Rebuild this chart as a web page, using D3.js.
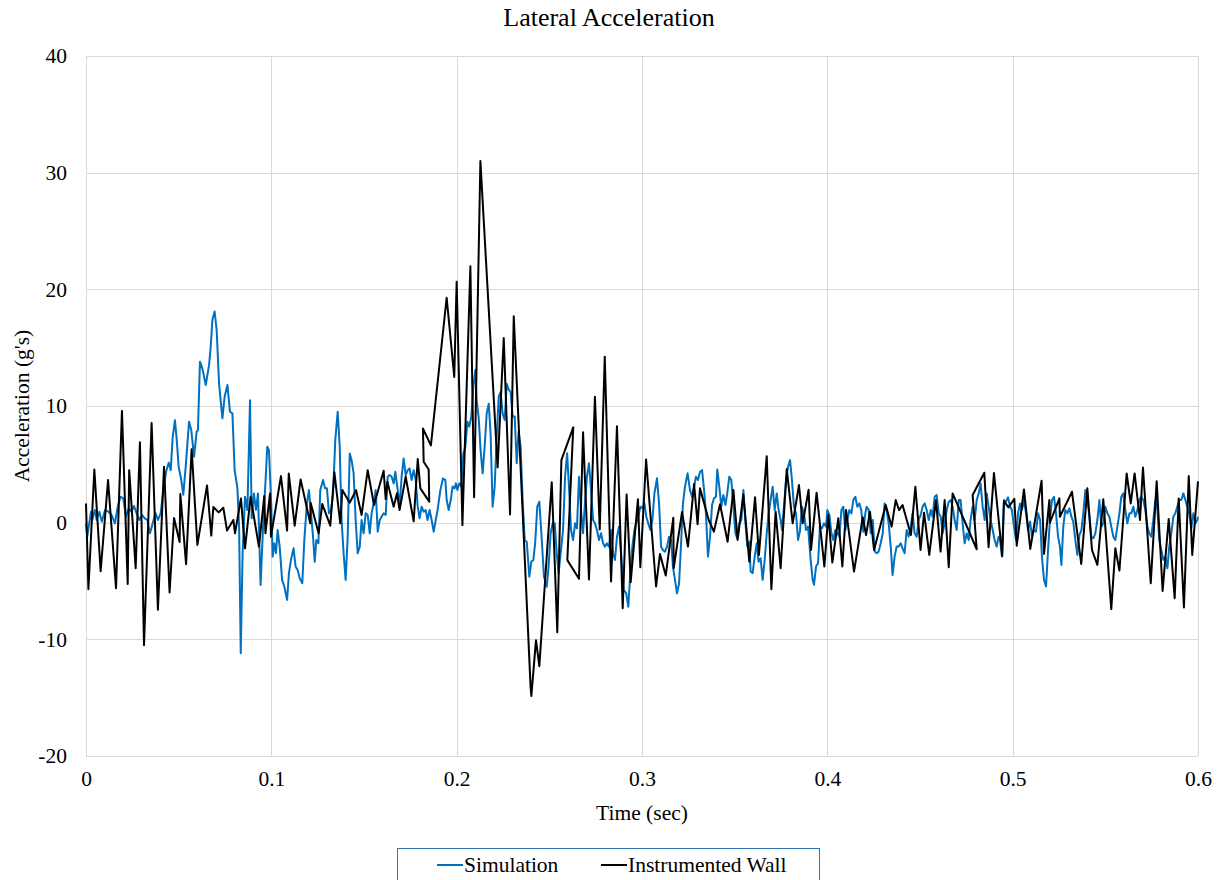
<!DOCTYPE html>
<html>
<head>
<meta charset="utf-8">
<script src="https://cdn.jsdelivr.net/npm/d3@7"></script>
<style>
  body { margin: 0; background: #fff; }
  svg { display: block; font-family: "Liberation Serif", "Times New Roman", serif; }
</style>
</head>
<body>
<div id="chart"></div>
<script>
// Axis ticks
const timeTicks = [0, 0.1, 0.2, 0.3, 0.4, 0.5, 0.6];
const accelTicks = [-20, -10, 0, 10, 20, 30, 40];

// Series names
const seriesNames = ["Simulation", "Instrumented Wall"];

// Simulation [time (sec), acceleration (g's)]
const simulation = [
  [0,-0.06],[0.0007,-1.2],[0.0027,0.94],[0.0034,0.23],[0.0047,1.08],[0.0058,0.23],[0.0072,0.94],[0.0085,0.09],
  [0.0103,1.08],[0.0121,0.94],[0.0138,0.66],[0.0156,-0.06],[0.0173,1.51],[0.0187,2.22],[0.0201,2.08],[0.0216,0.51],
  [0.0230,1.23],[0.0245,0.94],[0.0259,1.43],[0.0273,0.8],[0.0288,0.23],[0.0302,0.66],[0.0317,0.37],[0.0331,0.23],
  [0.0345,-0.91],[0.0360,-0.06],[0.0374,0.86],[0.0388,0.23],[0.0403,0.8],[0.0417,2.79],[0.0432,4.36],[0.0446,5.13],
  [0.0457,4.5],[0.0468,7.36],[0.0480,8.78],[0.0489,7.21],[0.0500,4.79],[0.0514,3.65],[0.0525,2.4],
  [0.0538,4.8],[0.0556,8.66],[0.0568,7.94],[0.0583,5.66],[0.0597,7.8],[0.0604,7.94],[0.0615,13.8],[0.0628,13.2],
  [0.0646,11.8],[0.0664,13.5],[0.0673,15.1],[0.0682,17.4],[0.0694,18.1],[0.0705,16.5],[0.0718,11.9],[0.0736,8.94],
  [0.0748,10.8],[0.0763,11.8],[0.0777,9.51],[0.0790,9.37],[0.0802,4.51],[0.0817,2.94],[0.0826,-0.34],[0.0835,-11.2],
  [0.0845,-2.63],[0.0858,2.23],[0.0871,1.09],[0.0885,10.5],[0.0894,0.37],[0.0906,2.51],[0.0917,1.09],[0.0928,2.51],
  [0.0942,-5.34],[0.0957,0.23],[0.0969,3.66],[0.0978,6.51],[0.0987,6.23],[0.1,1.37],
  [0.1007,-2.91],[0.1016,-1.77],[0.1025,-2.62],[0.1034,-0.63],[0.1045,-2.05],[0.1058,-4.9],[0.1070,-5.47],[0.1085,-6.62],
  [0.1095,-4.33],[0.1106,-3.19],[0.1120,-2.2],[0.1131,-3.76],[0.1142,-4.05],[0.1153,-4.76],[0.1167,-5.19],[0.1178,-1.48],
  [0.1192,1.65],[0.1203,2.79],[0.1214,0.8],[0.1225,-1.2],[0.1234,-3.34],[0.1243,-1.48],[0.1254,-1.77],[0.1264,2.79],
  [0.1279,3.65],[0.1290,2.94],[0.1300,2.94],[0.1311,0.8],[0.1322,1.08],[0.1333,2.37],[0.1345,7.07],[0.1358,9.5],
  [0.1369,6.5],[0.1379,0.23],[0.1390,-2.62],[0.1401,-4.9],[0.1412,-1.2],[0.1423,5.93],[0.1433,5.36],[0.1444,4.22],
  [0.1455,0.23],[0.1466,-2.62],[0.1477,-2.05],[0.1487,0.23],[0.1498,-0.91],[0.1509,0.8],[0.1520,0.66],[0.1531,-0.91],
  [0.1541,0.8],[0.1552,1.65],[0.1563,2.79],[0.1574,-0.77],[0.1585,0.23],[0.1595,0.51],[0.1606,0.8],[0.1617,0.66],
  [0.1628,3.94],[0.1638,4.08],[0.1649,3.94],[0.1660,3.36],[0.1669,4.36],[0.1682,2.79],[0.1692,1.37],[0.1703,3.94],
  [0.1714,5.5],[0.1725,4.08],[0.1736,4.5],[0.1746,4.65],[0.1757,3.65],[0.1768,4.5],[0.1779,3.65],[0.1790,1.37],
  [0.1800,0.37],[0.1811,1.37],[0.1822,0.94],[0.1833,1.08],[0.1843,0.23],[0.1854,1.08],[0.1865,0.23],[0.1876,-0.77],
  [0.1887,0.23],[0.1897,1.08],[0.1912,2.79],[0.1926,3.79],[0.1939,3.65],
  [0.1946,1.94],[0.1957,1.09],[0.1968,1.94],[0.1978,3.09],[0.1989,2.94],[0.1996,3.37],[0.2004,2.8],[0.2014,3.37],
  [0.2025,3.1],[0.2036,5.94],[0.2047,6.51],[0.2058,8.66],[0.2068,8.23],[0.2079,9.09],[0.2090,11.66],[0.2101,13.1],
  [0.2108,10.5],[0.2119,8.94],[0.2129,6.23],[0.2140,4.23],[0.2151,6.51],[0.2162,9.37],[0.2173,10.2],[0.2183,7.66],
  [0.2194,1.37],[0.2205,3.09],[0.2216,7.37],[0.2227,10.8],[0.2237,11.2],[0.2248,9.37],[0.2259,8.8],[0.2270,11.9],
  [0.2281,11.4],[0.2291,11.2],[0.2302,9.09],[0.2313,9.09],[0.2324,5.09],[0.2334,7.8],[0.2345,6.51],[0.2356,1.94],
  [0.2367,-1.49],[0.2378,-1.63],[0.2392,-4.63],[0.2403,-3.34],[0.2414,-3.2],[0.2424,-1.63],[0.2435,1.37],[0.2446,1.8],
  [0.2457,-0.91],[0.2471,-4.63],[0.2486,-5.49],[0.2496,-3.77],[0.2507,-0.91],[0.2518,-0.06],[0.2529,-0.06],[0.2540,-2.63],
  [0.2550,-4.34],
  [0.2574,-0.63],[0.2585,3.94],[0.2596,5.94],[0.2606,3.09],[0.2617,-0.63],[0.2628,-1.49],[0.2639,-0.06],[0.2649,-0.49],
  [0.2660,3.94],[0.2671,1.09],[0.2682,-0.91],[0.2692,1.66],[0.2703,3.94],[0.2714,5.09],[0.2725,2.8],[0.2736,0.23],
  [0.2746,-0.06],[0.2757,-0.63],[0.2768,-1.49],[0.2779,-0.91],[0.2790,-1.77],[0.2800,-2.06],[0.2811,-1.77],[0.2822,-2.06],
  [0.2833,-0.63],[0.2844,-2.63],[0.2854,-3.2],[0.2865,-1.2],[0.2876,-0.34],[0.2887,-2.63],[0.2901,-5.77],[0.2915,-6.06],
  [0.2926,-7.2],[0.2937,-4.34],[0.2948,-2.06],[0.2959,-0.63],[0.2969,-0.06],[0.2980,0.51],[0.2991,1.37],[0.3002,1.23],
  [0.3013,1.66],[0.3023,0.51],[0.3034,-0.06],[0.3045,-0.63],[0.3056,0.23],[0.3067,2.51],[0.3081,3.8],[0.3092,1.66],
  [0.3103,-2.06],[0.3113,-2.34],[0.3124,-2.49],[0.3135,-2.06],[0.3146,-1.2],[0.3157,-1.49],[0.3167,-3.77],[0.3178,-4.91],
  [0.3189,-6.06],[0.3200,-5.2],[0.3210,-2.06],[0.3221,1.66],[0.3232,3.09],[0.3246,4.23],
  [0.3259,2.79],[0.3270,2.22],[0.3281,3.08],[0.3291,3.94],[0.3302,3.65],[0.3313,4.36],[0.3324,4.5],[0.3335,2.79],
  [0.3345,0.8],[0.3356,-2.91],[0.3367,-1.2],[0.3378,1.51],[0.3388,2.08],[0.3399,2.22],[0.3406,4.56],[0.3417,3.08],
  [0.3428,1.37],[0.3439,2.37],[0.3450,1.51],[0.3460,2.51],[0.3471,3.94],[0.3482,3.65],[0.3493,1.37],[0.3504,-0.91],
  [0.3514,-1.34],[0.3525,-0.06],[0.3536,0.23],[0.3547,2.79],[0.3557,0.23],[0.3568,-2.05],[0.3579,-1.62],[0.3586,-4.19],
  [0.3597,-4.33],[0.3608,-2.91],[0.3619,-1.77],[0.3629,-3.34],[0.3640,-3.05],[0.3651,-4.9],[0.3662,-3.19],[0.3673,-0.91],
  [0.3683,0.8],[0.3694,1.94],[0.3705,3.08],[0.3716,1.08],[0.3727,2.51],[0.3737,1.08],[0.3748,0.23],[0.3755,-0.63],
  [0.3766,1.37],[0.3777,3.65],[0.3788,4.79],[0.3799,5.36],[0.3809,3.65],[0.3820,1.37],[0.3831,0.8],[0.3842,-1.48],
  [0.3852,-0.77],[0.3863,1.37],[0.3874,0.8],[0.3885,-0.63],[0.3896,-0.34],
  [0.3910,-3.19],[0.3921,-4.9],[0.3928,-5.33],[0.3939,-3.76],[0.3950,-3.48],[0.3960,-0.34],[0.3971,-0.48],[0.3982,-0.06],
  [0.3993,-0.34],[0.4000,1.08],[0.4011,0.66],[0.4022,-0.91],[0.4032,-1.48],[0.4043,-0.63],[0.4054,-0.91],[0.4065,-1.2],
  [0.4076,1.08],[0.4086,1.37],[0.4097,-0.63],[0.4108,0.23],[0.4119,1.08],[0.4130,0.8],[0.4140,1.94],[0.4151,2.22],
  [0.4162,1.37],[0.4173,1.65],[0.4183,1.08],[0.4194,-0.77],[0.4205,0.8],[0.4212,1.37],[0.4223,1.08],[0.4234,-0.91],
  [0.4245,0.23],[0.4256,-2.48],[0.4266,-2.62],[0.4277,-2.48],[0.4288,-1.77],[0.4299,-0.91],[0.4309,1.65],[0.4320,1.08],
  [0.4331,-0.06],[0.4342,-2.05],[0.4352,-4.48],[0.4363,-2.91],[0.4374,-2.05],[0.4385,-2.05],[0.4396,-1.77],[0.4406,-2.2],
  [0.4417,-2.62],[0.4428,-0.63],[0.4439,-1.2],[0.4450,-0.34],[0.4460,0.8],[0.4471,-0.91],[0.4482,-1.2],[0.4493,0.23],
  [0.4504,0.66],[0.4514,1.37],[0.4525,1.65],[0.4536,1.08],[0.4547,0.23],[0.4558,1.08],[0.4568,0.51],[0.4579,2.22],
  [0.4590,2.37],[0.4601,0.8],[0.4612,0.51],[0.4622,-0.91],[0.4633,-0.06],[0.4644,1.08],[0.4655,1.8],[0.4666,1.94],
  [0.4676,1.37],[0.4687,0.23],[0.4698,-0.63],[0.4709,1.94],[0.4719,1.94],[0.4730,-0.06],[0.4741,-1.77],[0.4752,-0.91],
  [0.4763,-1.48],[0.4773,0.23],[0.4784,1.37],[0.4795,0.23],[0.4806,1.94],[0.4817,2.51],[0.4827,3.36],[0.4838,1.37],
  [0.4849,0.23],[0.4860,2.51],[0.4870,1.37],[0.4881,0.23],[0.4892,-0.63],[0.4903,-1.48],[0.4914,-2.05],[0.4924,-1.2],
  [0.4932,-1.48],[0.4942,-2.91],[0.4953,1.94],[0.4964,1.8],[0.4975,2.17],[0.4986,1.37],[0.4996,1.08],[0.5007,-0.34],
  [0.5018,-1.48],[0.5029,0.8],[0.5040,1.65],[0.5050,1.08],[0.5061,1.94],[0.5072,0.8],[0.5083,-0.63],[0.5094,0.09],
  [0.5104,-1.2],[0.5115,-0.63],[0.5126,-0.77],[0.5137,0.8],[0.5148,0.23],[0.5158,-2.91],[0.5169,-4.9],[0.5180,-5.47],
  [0.5191,-2.34],[0.5201,0.23],[0.5212,1.94],[0.5223,2.22],[0.5234,0.8],[0.5245,-1.2],[0.5255,-2.05],[0.5263,-3.62],
  [0.5273,-0.34],[0.5284,1.08],[0.5295,0.8],[0.5306,1.23],[0.5317,0.51],[0.5327,0.09],[0.5338,-1.48],[0.5349,-2.77],
  [0.5360,-1.06],[0.5371,-0.63],[0.5381,0.8],[0.5392,2.79],[0.5403,1.94],[0.5414,0.51],[0.5424,-1.2],[0.5435,-1.34],
  [0.5446,-0.91],[0.5457,0.23],[0.5468,1.94],[0.5478,-0.34],[0.5489,-0.06],[0.5500,1.37],[0.5511,0.8],[0.5522,0.51],
  [0.5532,-0.34],[0.5543,-1.2],[0.5554,-1.48],[0.5565,-0.34],[0.5576,0.8],[0.5586,2.22],[0.5597,2.51],[0.5608,1.08],
  [0.5619,-0.06],[0.5630,0.8],[0.5640,0.8],[0.5651,1.37],[0.5662,0.51],[0.5673,1.08],[0.5683,1.94],[0.5694,2.22],
  [0.5705,1.94],[0.5716,1.08],[0.5727,-0.34],[0.5737,-0.91],[0.5748,-1.2],[0.5759,0.23],[0.5770,1.94],[0.5781,1.08],
  [0.5791,-1.48],[0.5802,-2.34],[0.5813,-3.19],[0.5824,-2.91],[0.5835,-3.91],[0.5845,-2.05],[0.5856,-0.91],[0.5867,0.51],
  [0.5878,0.8],[0.5888,1.37],[0.5899,1.94],[0.5910,1.94],[0.5921,2.51],[0.5932,1.94],[0.5942,1.37],[0.5953,0.8],
  [0.5964,-0.48],[0.5975,0.8],[0.5986,-0.06],[0.5996,0.23],[0.6,0.51]
];

// Instrumented wall [time (sec), acceleration (g's)] - recorded order, time not always increasing
const wall = [
  [0,1.65],[0.0013,-5.7],[0.0045,4.56],[0.0079,-4.16],[0.0119,3.65],[0.0162,-5.62],[0.0194,9.58],[0.0225,-5.25],
  [0.0233,4.5],[0.0268,-3.9],[0.0291,6.9],[0.0313,-10.5],[0.0354,8.55],[0.0388,-7.47],[0.0421,4.79],[0.0451,-5.99],
  [0.0475,0.4],[0.0505,-1.65],[0.0509,2.45],[0.0540,-3.56],[0.0570,6.3],[0.0601,-1.91],[0.0653,3.19],[0.0676,-1.11],
  [0.0687,1.34],[0.0716,0.88],[0.0741,1.28],[0.0761,-0.68],[0.0795,0.23],[0.0804,-0.91],[0.0836,2.08],[0.0858,-2.2],
  [0.0888,2.22],[0.0933,-2.05],[0.0962,2.28],[0.0968,-0.91],[0.0993,2.5],[0.0998,-1.2],[0.1052,3.99],[0.1085,-0.68],
  [0.1094,4.22],[0.1126,-0.26],[0.1158,3.71],[0.1210,-0.06],[0.1212,1.71],[0.1255,-0.91],[0.1275,1.6],[0.1318,-0.26],
  [0.1340,4.33],[0.1372,-0.06],[0.1383,2.79],[0.1423,1.71],[0.1457,2.79],[0.1487,0.66],[0.1520,4.5],[0.1554,1.51],
  [0.1606,4.45],[0.1617,2.02],[0.1626,3.51],[0.1660,1.37],[0.1678,2.51],[0.1692,1.08],[0.1725,3.94],[0.1768,0.11],
  [0.1790,5.45],[0.1804,2.94],[0.1852,1.8],[0.1849,4.56],[0.1822,5.22],[0.1818,8.07],[0.1861,6.62],[0.1946,19.28],
  [0.1987,12.49],[0.2,20.66],[0.2031,-0.21],[0.2074,21.98],[0.2094,2.17],[0.2128,31.0],[0.2221,4.74],[0.2254,15.82],
  [0.2288,0.7],[0.2308,17.69],[0.2399,-14.14],[0.2403,-14.85],[0.2428,-10.07],[0.2446,-12.3],[0.2513,3.46],[0.2543,-9.4],
  [0.2565,5.36],[0.2629,8.17],[0.2597,-3.21],[0.2660,-4.81],[0.2682,7.74],[0.2714,-4.87],[0.2746,10.8],[0.2772,-0.58],
  [0.2799,14.23],[0.2833,-5.05],[0.2865,8.26],[0.2896,-7.33],[0.2917,2.42],[0.2939,-5.1],[0.2978,2.0],[0.2991,-3.82],
  [0.3022,5.42],[0.3076,-5.47],[0.3097,-2.68],[0.3128,-4.53],[0.3169,0.43],[0.3171,-3.9],[0.3216,0.91],[0.3248,-2.05],
  [0.3281,3.31],[0.3300,-0.14],[0.3313,2.94],[0.3360,0.23],[0.3388,-0.77],[0.3421,1.57],[0.3462,-1.63],[0.3493,2.79],
  [0.3516,-1.48],[0.3547,2.42],[0.3579,-3.34],[0.3610,2.17],[0.3631,-2.77],[0.3673,5.7],[0.3698,-5.7],[0.3721,0.94],
  [0.3748,-3.91],[0.3781,4.59],[0.3813,-0.06],[0.3847,3.22],[0.3867,-0.06],[0.3899,2.82],[0.3912,-2.34],[0.3942,2.57],
  [0.3984,-3.76],[0.4005,0.66],[0.4027,-3.42],[0.4059,0.37],[0.4081,-3.76],[0.4101,1.08],[0.4144,-4.19],[0.4191,0.46],
  [0.4209,-1.06],[0.4230,0.94],[0.4252,-2.34],[0.4315,1.51],[0.4347,-0.34],[0.4369,1.94],[0.4387,1.08],[0.4406,1.51],
  [0.4451,-1.06],[0.4475,3.08],[0.4503,-2.34],[0.4522,0.86],[0.4550,-2.77],[0.4586,1.94],[0.4611,-2.48],[0.4633,1.94],
  [0.4655,-3.82],[0.4676,2.51],[0.4806,-2.28],[0.4784,2.37],[0.4847,4.28],[0.4870,-2.11],[0.4899,4.25],[0.4944,-2.85],
  [0.4953,1.85],[0.4977,1.31],[0.5009,2.05],[0.5022,-1.97],[0.5061,2.85],[0.5095,-2.25],[0.5156,3.59],[0.5169,-2.68],
  [0.5198,1.94],[0.5201,0],[0.5252,2.08],[0.5255,0.51],[0.5320,2.65],[0.5370,-3.54],[0.5403,2.94],[0.5428,-2.34],
  [0.5457,-3.62],[0.5489,2.0],[0.5532,-7.41],[0.5554,-2.2],[0.5576,-4.11],[0.5615,4.22],[0.5637,1.65],[0.5658,4.22],
  [0.5687,0.23],[0.5703,4.73],[0.5745,-5.19],[0.5777,3.56],[0.5809,-5.85],[0.5842,0.31],[0.5874,-6.47],[0.5896,2.08],
  [0.5924,-7.27],[0.5950,3.99],[0.5969,-2.77],[0.6,3.54]
];

const width = 1222;
const height = 880;
const margin = { top: 56, right: 24, bottom: 124, left: 86 };

const fontFamily = "'Liberation Serif', 'Times New Roman', serif";
const fontSize = 21.5;
const gridColor = "#d9d9d9";
const colors = ["#0070c0", "#000000"];

const svg = d3
  .select("#chart")
  .append("svg")
  .attr("width", width)
  .attr("height", height)
  .attr("viewBox", [0, 0, width, height]);

// Scales
const x = d3
  .scaleLinear()
  .domain([0, 0.6])
  .range([margin.left, width - margin.right]);

const y = d3
  .scaleLinear()
  .domain([-20, 40])
  .range([height - margin.bottom, margin.top]);

// Gridlines
svg
  .append("g")
  .selectAll("line")
  .data(accelTicks)
  .join("line")
  .attr("x1", x(0))
  .attr("x2", x(0.6))
  .attr("y1", (d) => Math.round(y(d)) + 0.5)
  .attr("y2", (d) => Math.round(y(d)) + 0.5)
  .attr("stroke", gridColor)
  .attr("stroke-width", 1);

svg
  .append("g")
  .selectAll("line")
  .data(timeTicks)
  .join("line")
  .attr("x1", (d) => Math.round(x(d)) + 0.5)
  .attr("x2", (d) => Math.round(x(d)) + 0.5)
  .attr("y1", y(40))
  .attr("y2", y(-20))
  .attr("stroke", gridColor)
  .attr("stroke-width", 1);

// Axes (labels only, lines handled by grid); plain hyphen for negatives
const xAxis = svg
  .append("g")
  .attr("transform", `translate(0, ${y(-20)})`)
  .call(d3.axisBottom(x).tickValues(timeTicks).tickSize(0).tickPadding(15).tickFormat((d) => String(d)));

const yAxis = svg
  .append("g")
  .attr("transform", `translate(${x(0)}, 0)`)
  .call(d3.axisLeft(y).tickValues(accelTicks).tickSize(0).tickPadding(19).tickFormat((d) => String(d)));

[xAxis, yAxis].forEach((axis) => {
  axis.select(".domain").remove();
  axis.attr("font-family", null);
  axis
    .selectAll("text")
    .style("font-family", fontFamily)
    .attr("font-size", fontSize)
    .attr("fill", "#000");
});

// Lines
const line = d3
  .line()
  .x((d) => x(d[0]))
  .y((d) => y(d[1]));

[simulation, wall].forEach((series, i) => {
  svg
    .append("path")
    .datum(series)
    .attr("d", line)
    .attr("fill", "none")
    .attr("stroke", colors[i])
    .attr("stroke-width", 2)
    .attr("stroke-linejoin", "round");
});

// Title
svg
  .append("text")
  .attr("x", 609)
  .attr("y", 26)
  .attr("text-anchor", "middle")
  .style("font-family", fontFamily)
  .attr("font-size", 26)
  .attr("fill", "#000")
  .text("Lateral Acceleration");

// Axis titles
svg
  .append("text")
  .attr("x", x(0.3))
  .attr("y", 820)
  .attr("text-anchor", "middle")
  .style("font-family", fontFamily)
  .attr("font-size", fontSize)
  .attr("fill", "#000")
  .text("Time (sec)");

svg
  .append("text")
  .attr("transform", `translate(29, ${y(10)}) rotate(-90)`)
  .attr("text-anchor", "middle")
  .style("font-family", fontFamily)
  .attr("font-size", fontSize)
  .attr("fill", "#000")
  .text("Acceleration (g's)");

// Legend
const legend = svg.append("g");

legend
  .append("rect")
  .attr("x", 397.5)
  .attr("y", 848.5)
  .attr("width", 422)
  .attr("height", 50)
  .attr("fill", "#fff")
  .attr("stroke", "#2e75b6")
  .attr("stroke-width", 1);

const legendItems = [
  { x: 437, label: seriesNames[0], color: colors[0] },
  { x: 601, label: seriesNames[1], color: colors[1] },
];

legendItems.forEach((d) => {
  legend
    .append("line")
    .attr("x1", d.x)
    .attr("x2", d.x + 26)
    .attr("y1", 865)
    .attr("y2", 865)
    .attr("stroke", d.color)
    .attr("stroke-width", 2);

  legend
    .append("text")
    .attr("x", d.x + 27)
    .attr("y", 872)
    .style("font-family", fontFamily)
    .attr("font-size", fontSize)
    .attr("fill", "#000")
    .text(d.label);
});
</script>
</body>
</html>
